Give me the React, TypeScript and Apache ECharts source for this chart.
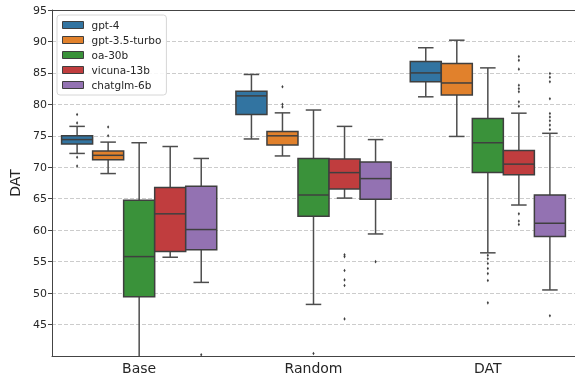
import React, { useEffect, useRef } from "react";
import * as echarts from "echarts";

const groups = ["Base", "Random", "DAT"];
const models = ["gpt-4", "gpt-3.5-turbo", "oa-30b", "vicuna-13b", "chatglm-6b"];
const colors = ["#3274a1", "#e1812c", "#3a923a", "#c03d3e", "#9372b2"];
const yTicks = { min: 40, max: 95, step: 5 };

// [low whisker, q1, median, q3, high whisker] per group (Base, Random, DAT)
const gpt4Stats = [
  [72.2, 73.7, 74.4, 75.0, 76.5],
  [74.5, 78.4, 81.35, 82.1, 84.75],
  [81.2, 83.6, 85.0, 86.8, 89.0],
];
const gpt35Stats = [
  [69.0, 71.2, 71.9, 72.6, 74.0],
  [71.8, 73.55, 75.0, 75.7, 78.65],
  [74.9, 81.5, 83.4, 86.5, 90.2],
];
const oa30Stats = [
  [37.0, 49.4, 55.8, 64.75, 73.9],
  [48.2, 62.2, 65.6, 71.4, 79.1],
  [56.4, 69.15, 73.9, 77.75, 85.8],
];
const vicunaStats = [
  [55.7, 56.6, 62.6, 66.8, 73.3],
  [65.1, 66.55, 69.15, 71.3, 76.5],
  [64.0, 68.8, 70.5, 72.65, 78.6],
];
const chatglmStats = [
  [51.7, 56.9, 60.1, 67.0, 71.4],
  [59.4, 64.9, 68.2, 70.85, 74.4],
  [50.5, 59.0, 61.1, 65.6, 75.4],
];

// outliers per group (Base, Random, DAT)
const gpt4Outliers = [[78.4, 77.05, 71.6, 70.2], [], []];
const gpt35Outliers = [[76.4, 75.0], [82.8, 80.0, 79.6], []];
const oa30Outliers = [[], [40.4], [56.0, 55.45, 54.7, 53.9, 53.1, 52.0, 48.45]];
const vicunaOutliers = [
  [],
  [56.1, 55.8, 53.6, 52.1, 51.2, 45.9],
  [87.6, 87.0, 85.6, 83.05, 82.5, 82.0, 80.4, 79.7, 62.6, 61.45, 60.9],
];
const chatglmOutliers = [
  [40.2],
  [55.0],
  [84.9, 84.3, 83.6, 80.9, 78.55, 78.0, 77.4, 76.7, 76.0, 46.4],
];

const allStats = [gpt4Stats, gpt35Stats, oa30Stats, vicunaStats, chatglmStats];
const allOutliers = [gpt4Outliers, gpt35Outliers, oa30Outliers, vicunaOutliers, chatglmOutliers];

const LINE = "#3f3f3f";
const WHISK = "#4d4d4d";
const FONT = "DejaVu Sans";
const HUE_FRAC = 0.178;

export default function App() {
  const ref = useRef<HTMLDivElement>(null);

  useEffect(() => {
    if (!ref.current) return;
    const chart = echarts.init(ref.current, undefined, { renderer: "svg" });

    const boxSeries = models.map((name, h) => ({
      type: "custom",
      name,
      xAxisIndex: 0,
      yAxisIndex: 0,
      clip: true,
      itemStyle: { color: colors[h] },
      encode: { x: 0, y: [1, 2, 3, 4, 5] },
      data: allStats[h].map((s, g) => [g, ...s]),
      renderItem: (params: any, api: any) => {
        const g = api.value(0);
        const band = api.size([1, 0])[0];
        const bw = band * HUE_FRAC;
        const xc = api.coord([g, api.value(3)])[0] + (h - 2) * bw;
        const yLow = api.coord([g, api.value(1)])[1];
        const yQ1 = api.coord([g, api.value(2)])[1];
        const yMed = api.coord([g, api.value(3)])[1];
        const yQ3 = api.coord([g, api.value(4)])[1];
        const yHigh = api.coord([g, api.value(5)])[1];
        const ls = { stroke: WHISK, lineWidth: 1.5 };
        const cap = bw / 4;
        return {
          type: "group",
          children: [
            { type: "line", shape: { x1: xc, y1: yQ3, x2: xc, y2: yHigh }, style: ls },
            { type: "line", shape: { x1: xc, y1: yQ1, x2: xc, y2: yLow }, style: ls },
            { type: "line", shape: { x1: xc - cap, y1: yHigh, x2: xc + cap, y2: yHigh }, style: ls },
            { type: "line", shape: { x1: xc - cap, y1: yLow, x2: xc + cap, y2: yLow }, style: ls },
            {
              type: "rect",
              shape: { x: xc - bw / 2, y: yQ3, width: bw, height: yQ1 - yQ3 },
              style: { fill: colors[h], stroke: LINE, lineWidth: 1.5 },
            },
            {
              type: "line",
              shape: { x1: xc - bw / 2, y1: yMed, x2: xc + bw / 2, y2: yMed },
              style: { stroke: LINE, lineWidth: 1.5 },
            },
          ],
        };
      },
    }));

    const outlierSeries = models.map((name, h) => {
      const pts: number[][] = [];
      allOutliers[h].forEach((vals, g) => vals.forEach((v) => pts.push([g, v])));
      return {
        type: "custom",
        name,
        clip: true,
        itemStyle: { color: colors[h] },
        encode: { x: 0, y: 1 },
        data: pts,
        renderItem: (params: any, api: any) => {
          const g = api.value(0);
          const band = api.size([1, 0])[0];
          const bw = band * HUE_FRAC;
          const p = api.coord([g, api.value(1)]);
          const x = p[0] + (h - 2) * bw;
          const y = p[1];
          return {
            type: "polygon",
            shape: { points: [[x, y - 1.8], [x + 1.1, y], [x, y + 1.8], [x - 1.1, y]] },
            style: { fill: LINE },
          };
        },
      };
    });

    chart.setOption({
      animation: false,
      textStyle: { fontFamily: FONT },
      grid: { left: 52, right: 0, top: 10, bottom: 23, containLabel: false },
      legend: {
        orient: "vertical",
        left: 57,
        top: 15,
        padding: [3, 5, 3, 5],
        itemWidth: 21,
        itemHeight: 7,
        itemGap: 1,
        backgroundColor: "rgba(255,255,255,0.85)",
        borderColor: "#d6d6d6",
        borderWidth: 1,
        borderRadius: 3,
        textStyle: { fontFamily: FONT, fontSize: 10.5, color: "#262626", lineHeight: 14, padding: [0, 0, 0, 3] },
        data: models.map((m, i) => ({
          name: m,
          icon: "rect",
          itemStyle: { color: colors[i], borderColor: LINE, borderWidth: 1 },
        })),
      },
      xAxis: [
        {
          type: "category",
          data: groups,
          boundaryGap: true,
          axisLine: { lineStyle: { color: "#444", width: 1 } },
          axisTick: { alignWithLabel: true, length: 4, lineStyle: { color: "#444" } },
          axisLabel: { fontFamily: FONT, fontSize: 14, color: "#262626", margin: 5 },
          splitLine: { show: false },
        },
        {
          type: "category",
          data: groups,
          position: "top",
          axisLine: { lineStyle: { color: "#444", width: 1 } },
          axisTick: { show: false },
          axisLabel: { show: false },
          splitLine: { show: false },
        },
      ],
      yAxis: {
        type: "value",
        min: yTicks.min,
        max: yTicks.max,
        interval: yTicks.step,
        name: "DAT",
        nameLocation: "middle",
        nameGap: 25,
        nameTextStyle: { fontFamily: FONT, fontSize: 14, color: "#262626" },
        axisLine: { show: true, lineStyle: { color: "#444", width: 1 } },
        axisTick: { show: true, length: 4, lineStyle: { color: "#444" } },
        axisLabel: { fontFamily: FONT, fontSize: 11, color: "#262626", margin: 5, showMinLabel: false },
        splitLine: { show: true, lineStyle: { color: "#cccccc", type: [4, 2], width: 1 } },
      },
      series: [...boxSeries, ...outlierSeries],
    });

    return () => chart.dispose();
  }, []);

  return (
    <div
      ref={ref}
      style={{ position: "fixed", left: 0, top: 0, width: 575, height: 379 }}
    />
  );
}
